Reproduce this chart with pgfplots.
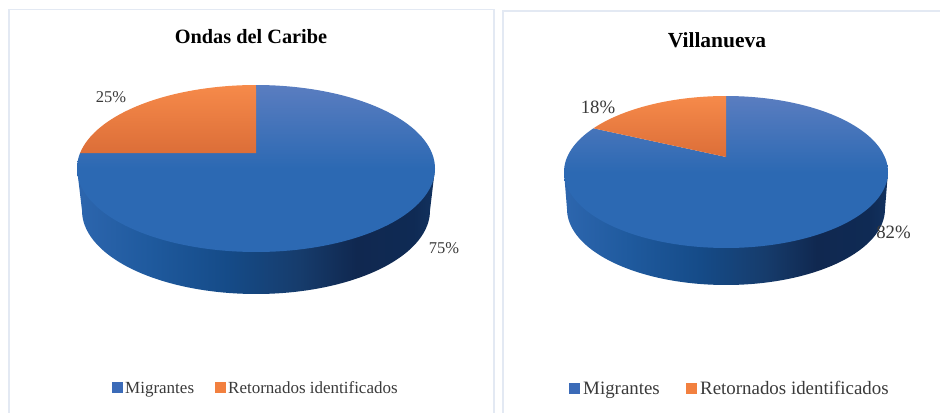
\documentclass[border=0pt]{standalone}
\usepackage{pgfplots}
\usepackage{pgfplotstable}
\usepackage{fontspec}
\usetikzlibrary{plotmarks}
\setmainfont{Liberation Serif}
\pgfplotsset{compat=1.18}

\definecolor{blueTop}{HTML}{5A7DC0}
\definecolor{blueFace}{HTML}{2C69B3}
\definecolor{orangeTop}{HTML}{F68A4A}
\definecolor{orangeLow}{HTML}{DC6E38}
\definecolor{legBlue}{HTML}{3B6BB8}
\definecolor{legOrange}{HTML}{F2803F}
\definecolor{panel}{HTML}{E3E9F3}
\definecolor{labelInk}{HTML}{3A3A3A}
\definecolor{wallA}{HTML}{2D66AE}
\definecolor{wallB}{HTML}{1F5A9E}
\definecolor{wallC}{HTML}{154B88}
\definecolor{wallD}{HTML}{163C6C}
\definecolor{wallE}{HTML}{102850}
\definecolor{wallF}{HTML}{0F2A54}
\definecolor{wallG}{HTML}{12325F}

% Wall of the disc: colour runs from left to right
\pgfdeclarehorizontalshading{discwall}{100bp}{
  color(0bp)=(wallA);
  color(25bp)=(wallA);
  color(35bp)=(wallB);
  color(46bp)=(wallC);
  color(56bp)=(wallD);
  color(64bp)=(wallE);
  color(72bp)=(wallF);
  color(75bp)=(wallG);
  color(100bp)=(wallG)}

% Shares of each chart
\pgfplotstableread{
serie value
Migrantes 75
Retornados 25
}\ondasTable
\pgfplotstableread{
serie value
Migrantes 82
Retornados 18
}\villaTable

% Rim of the tilted disc at clockwise angle #6 from the top.
% #1 centre x, #2 ellipse centre y, #3 half width, #4 half height, #5 y of the disc's hub
\newcommand{\rimx}[6]{#1+#3*sqrt(1-((#2-#5)/#4)^2)*sin(#6)/(1+((#2-#5)/#4)*cos(#6))}
\newcommand{\rimy}[6]{#2-(#4*cos(#6)+(#2-#5))/(1+((#2-#5)/#4)*cos(#6))}

% #1 cx, #2 cy, #3 rx, #4 ry, #5 hub y, #6 first share,
% #7 cy, #8 rx, #9 ry of the lower rim
\newcommand{\disc}[9]{%
  % wall
  \addplot[draw=none, mark=none, shading=discwall, domain=180:360, samples=90, variable=\t]
    ({#1+#8*cos(\t)},{#7-#9*sin(\t)})
    -- (axis cs:#1+#3,#2) -- (axis cs:#1-#3,#2) -- cycle;
  % upper face, first share
  \addplot[draw=none, mark=none, top color=blueTop, bottom color=blueFace, middle color=blueFace,
           domain=0:3.6*#6, samples=140, variable=\t]
    ({\rimx{#1}{#2}{#3}{#4}{#5}{\t}},{\rimy{#1}{#2}{#3}{#4}{#5}{\t}})
    -- (axis cs:#1,#5) -- cycle;
  % upper face, second share
  \addplot[draw=none, mark=none, top color=orangeTop, bottom color=orangeLow,
           domain=3.6*#6:360, samples=60, variable=\t]
    ({\rimx{#1}{#2}{#3}{#4}{#5}{\t}},{\rimy{#1}{#2}{#3}{#4}{#5}{\t}})
    -- (axis cs:#1,#5) -- cycle;
}

\begin{document}
\begin{tikzpicture}
\path[use as bounding box] (0,0) rectangle (940pt,413pt);
\pgfplotstablegetelem{0}{value}\of\ondasTable\let\ondasFirst\pgfplotsretval
\pgfplotstablegetelem{0}{value}\of\villaTable\let\villaFirst\pgfplotsretval
\begin{axis}[
  at={(0,0)}, anchor=south west,
  scale only axis, width=940pt, height=413pt,
  xmin=0, xmax=940, ymin=0, ymax=413, y dir=reverse,
  hide axis, clip=false,
]
% panel outlines
\addplot[panel, mark=none, line width=1.3pt] coordinates {(9,413) (9,9.5) (494,9.5) (494,413)};
\addplot[panel, mark=none, line width=1.3pt] coordinates {(503,413) (503,11) (940,11)};

\disc{256}{168.5}{179}{83.5}{153}{\ondasFirst}{210.5}{174}{83.5}
\disc{726}{172}{162}{76}{157}{\villaFirst}{209}{159}{76}

% legend keys
\addplot[only marks, mark=square*, mark size=5pt, mark options={draw=legBlue, fill=legBlue, line width=0pt}]
  coordinates {(117,387.5) (574,388.5)};
\addplot[only marks, mark=square*, mark size=5pt, mark options={draw=legOrange, fill=legOrange, line width=0pt}]
  coordinates {(220.5,387.5) (691,388.5)};

% titles
\node[font=\bfseries\fontsize{20.3}{22}\selectfont, text=black] at (axis cs:251,37) {Ondas del Caribe};
\node[font=\bfseries\fontsize{21.5}{24}\selectfont, text=black] at (axis cs:717,40) {Villanueva};

% share labels
\node[font=\fontsize{16.5}{18}\selectfont, text=labelInk] at (axis cs:111,97) {25\%};
\node[font=\fontsize{16.5}{18}\selectfont, text=labelInk] at (axis cs:444,248) {75\%};
\node[font=\fontsize{18.8}{20}\selectfont, text=labelInk] at (axis cs:598,107) {18\%};
\node[font=\fontsize{18.8}{20}\selectfont, text=labelInk] at (axis cs:893.5,232) {82\%};

% legend texts
\node[font=\fontsize{17}{18}\selectfont, text=labelInk, anchor=base west, inner sep=0pt] at (axis cs:125,393) {Migrantes};
\node[font=\fontsize{17}{18}\selectfont, text=labelInk, anchor=base west, inner sep=0pt] at (axis cs:228,393) {Retornados identificados};
\node[font=\fontsize{18.9}{20}\selectfont, text=labelInk, anchor=base west, inner sep=0pt] at (axis cs:583,394) {Migrantes};
\node[font=\fontsize{18.9}{20}\selectfont, text=labelInk, anchor=base west, inner sep=0pt] at (axis cs:700,394) {Retornados identificados};
\end{axis}
\end{tikzpicture}
\end{document}
